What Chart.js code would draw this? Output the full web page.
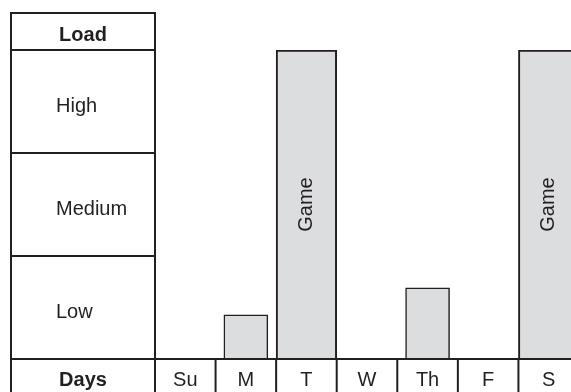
<!DOCTYPE html>
<html>
<head>
<meta charset="utf-8">
<script src="https://cdn.jsdelivr.net/npm/chart.js@4/dist/chart.umd.min.js"></script>
<style>
    html, body { margin: 0; padding: 0; background: #fff; overflow: hidden; }
    #wrap { width: 571px; height: 392px; overflow: hidden; }
    canvas { display: block; }
</style>
</head>
<body>
<!-- canvas is a bit wider than the view: the last column runs off the right edge -->
<div id="wrap"><canvas id="loadChart" width="579" height="392"></canvas></div>
<script>
// Weekly load diagram

const days = ['Su', 'M', 'T', 'W', 'Th', 'F', 'S'];
const loadLevels = ['Low', 'Medium', 'High'];
const gameLoad = [null, null, 3, null, null, null, 3];
const practiceLoad = [null, 0.43, null, null, 0.69, null, null];
const gameLabel = 'Game';
const loadTitle = 'Load';
const daysTitle = 'Days';

const INK = '#231f20';
const FILL = '#dcdddf';
const FONT = '"Liberation Sans", Arial, Helvetica, sans-serif';

// Draws the table around the bars: level column, day row, text
const tablePlugin = {
    id: 'loadTable',
    afterDatasetsDraw(chart) {
        const ctx = chart.ctx;
        const xs = chart.scales.x;
        const ys = chart.scales.y;
        const area = chart.chartArea;
        const left = 11;
        const top = 13;
        const bottom = chart.height + 4;
        const base = ys.getPixelForValue(0);
        const colW = xs.getPixelForValue(1) - xs.getPixelForValue(0);
        const tableMid = (left + area.left) / 2;

        ctx.save();
        ctx.strokeStyle = INK;
        ctx.lineWidth = 2;
        ctx.beginPath();
        // outer box
        ctx.moveTo(left, bottom);
        ctx.lineTo(left, top);
        ctx.lineTo(area.left, top);
        ctx.lineTo(area.left, bottom);
        // header + level bands
        ctx.moveTo(left, area.top);
        ctx.lineTo(area.left, area.top);
        loadLevels.forEach((_, i) => {
            const py = ys.getPixelForValue(i);
            ctx.moveTo(left, py);
            ctx.lineTo(area.left, py);
        });
        // base line
        ctx.moveTo(left, base);
        ctx.lineTo(area.right, base);
        // day dividers
        days.forEach((_, i) => {
            const px = xs.getPixelForValue(i) + colW / 2;
            ctx.moveTo(px, base);
            ctx.lineTo(px, bottom);
        });
        ctx.stroke();

        ctx.fillStyle = INK;
        ctx.textBaseline = 'alphabetic';

        // titles
        ctx.font = 'bold 20px ' + FONT;
        ctx.textAlign = 'center';
        ctx.fillText(loadTitle, tableMid, 41);
        ctx.fillText(daysTitle, tableMid, 386);

        // level names
        ctx.font = '20px ' + FONT;
        ctx.textAlign = 'left';
        loadLevels.forEach((name, i) => {
            const mid = (ys.getPixelForValue(i) + ys.getPixelForValue(i + 1)) / 2;
            ctx.fillText(name, 56, mid + 10);
        });

        // day names
        ctx.textAlign = 'center';
        days.forEach((d, i) => {
            ctx.fillText(d, xs.getPixelForValue(i), 386);
        });

        // game labels inside the tall bars
        const meta = chart.getDatasetMeta(0);
        gameLoad.forEach((v, i) => {
            if (v == null) return;
            const el = meta.data[i];
            ctx.save();
            ctx.translate(el.x, (el.y + el.base) / 2);
            ctx.rotate(-Math.PI / 2);
            ctx.textBaseline = 'middle';
            ctx.fillText(gameLabel, 0, 0);
            ctx.restore();
        });
        ctx.restore();
    }
};

new Chart(document.getElementById('loadChart'), {
    type: 'bar',
    data: {
        labels: days,
        datasets: [{
            label: 'Game',
            data: gameLoad,
            backgroundColor: FILL,
            borderColor: INK,
            borderWidth: 2,
            categoryPercentage: 1,
            barPercentage: 1,
            grouped: false
        }, {
            label: 'Practice',
            data: practiceLoad,
            backgroundColor: FILL,
            borderColor: INK,
            borderWidth: 1.5,
            barThickness: 44,
            grouped: false
        }]
    },
    options: {
        responsive: false,
        animation: false,
        layout: { padding: { left: 155, top: 50, right: 0, bottom: 33 } },
        scales: {
            x: { display: false },
            y: { display: false, min: 0, max: 3 }
        },
        plugins: {
            legend: { display: false },
            tooltip: { enabled: false }
        }
    },
    plugins: [tablePlugin]
});
</script>
</body>
</html>
